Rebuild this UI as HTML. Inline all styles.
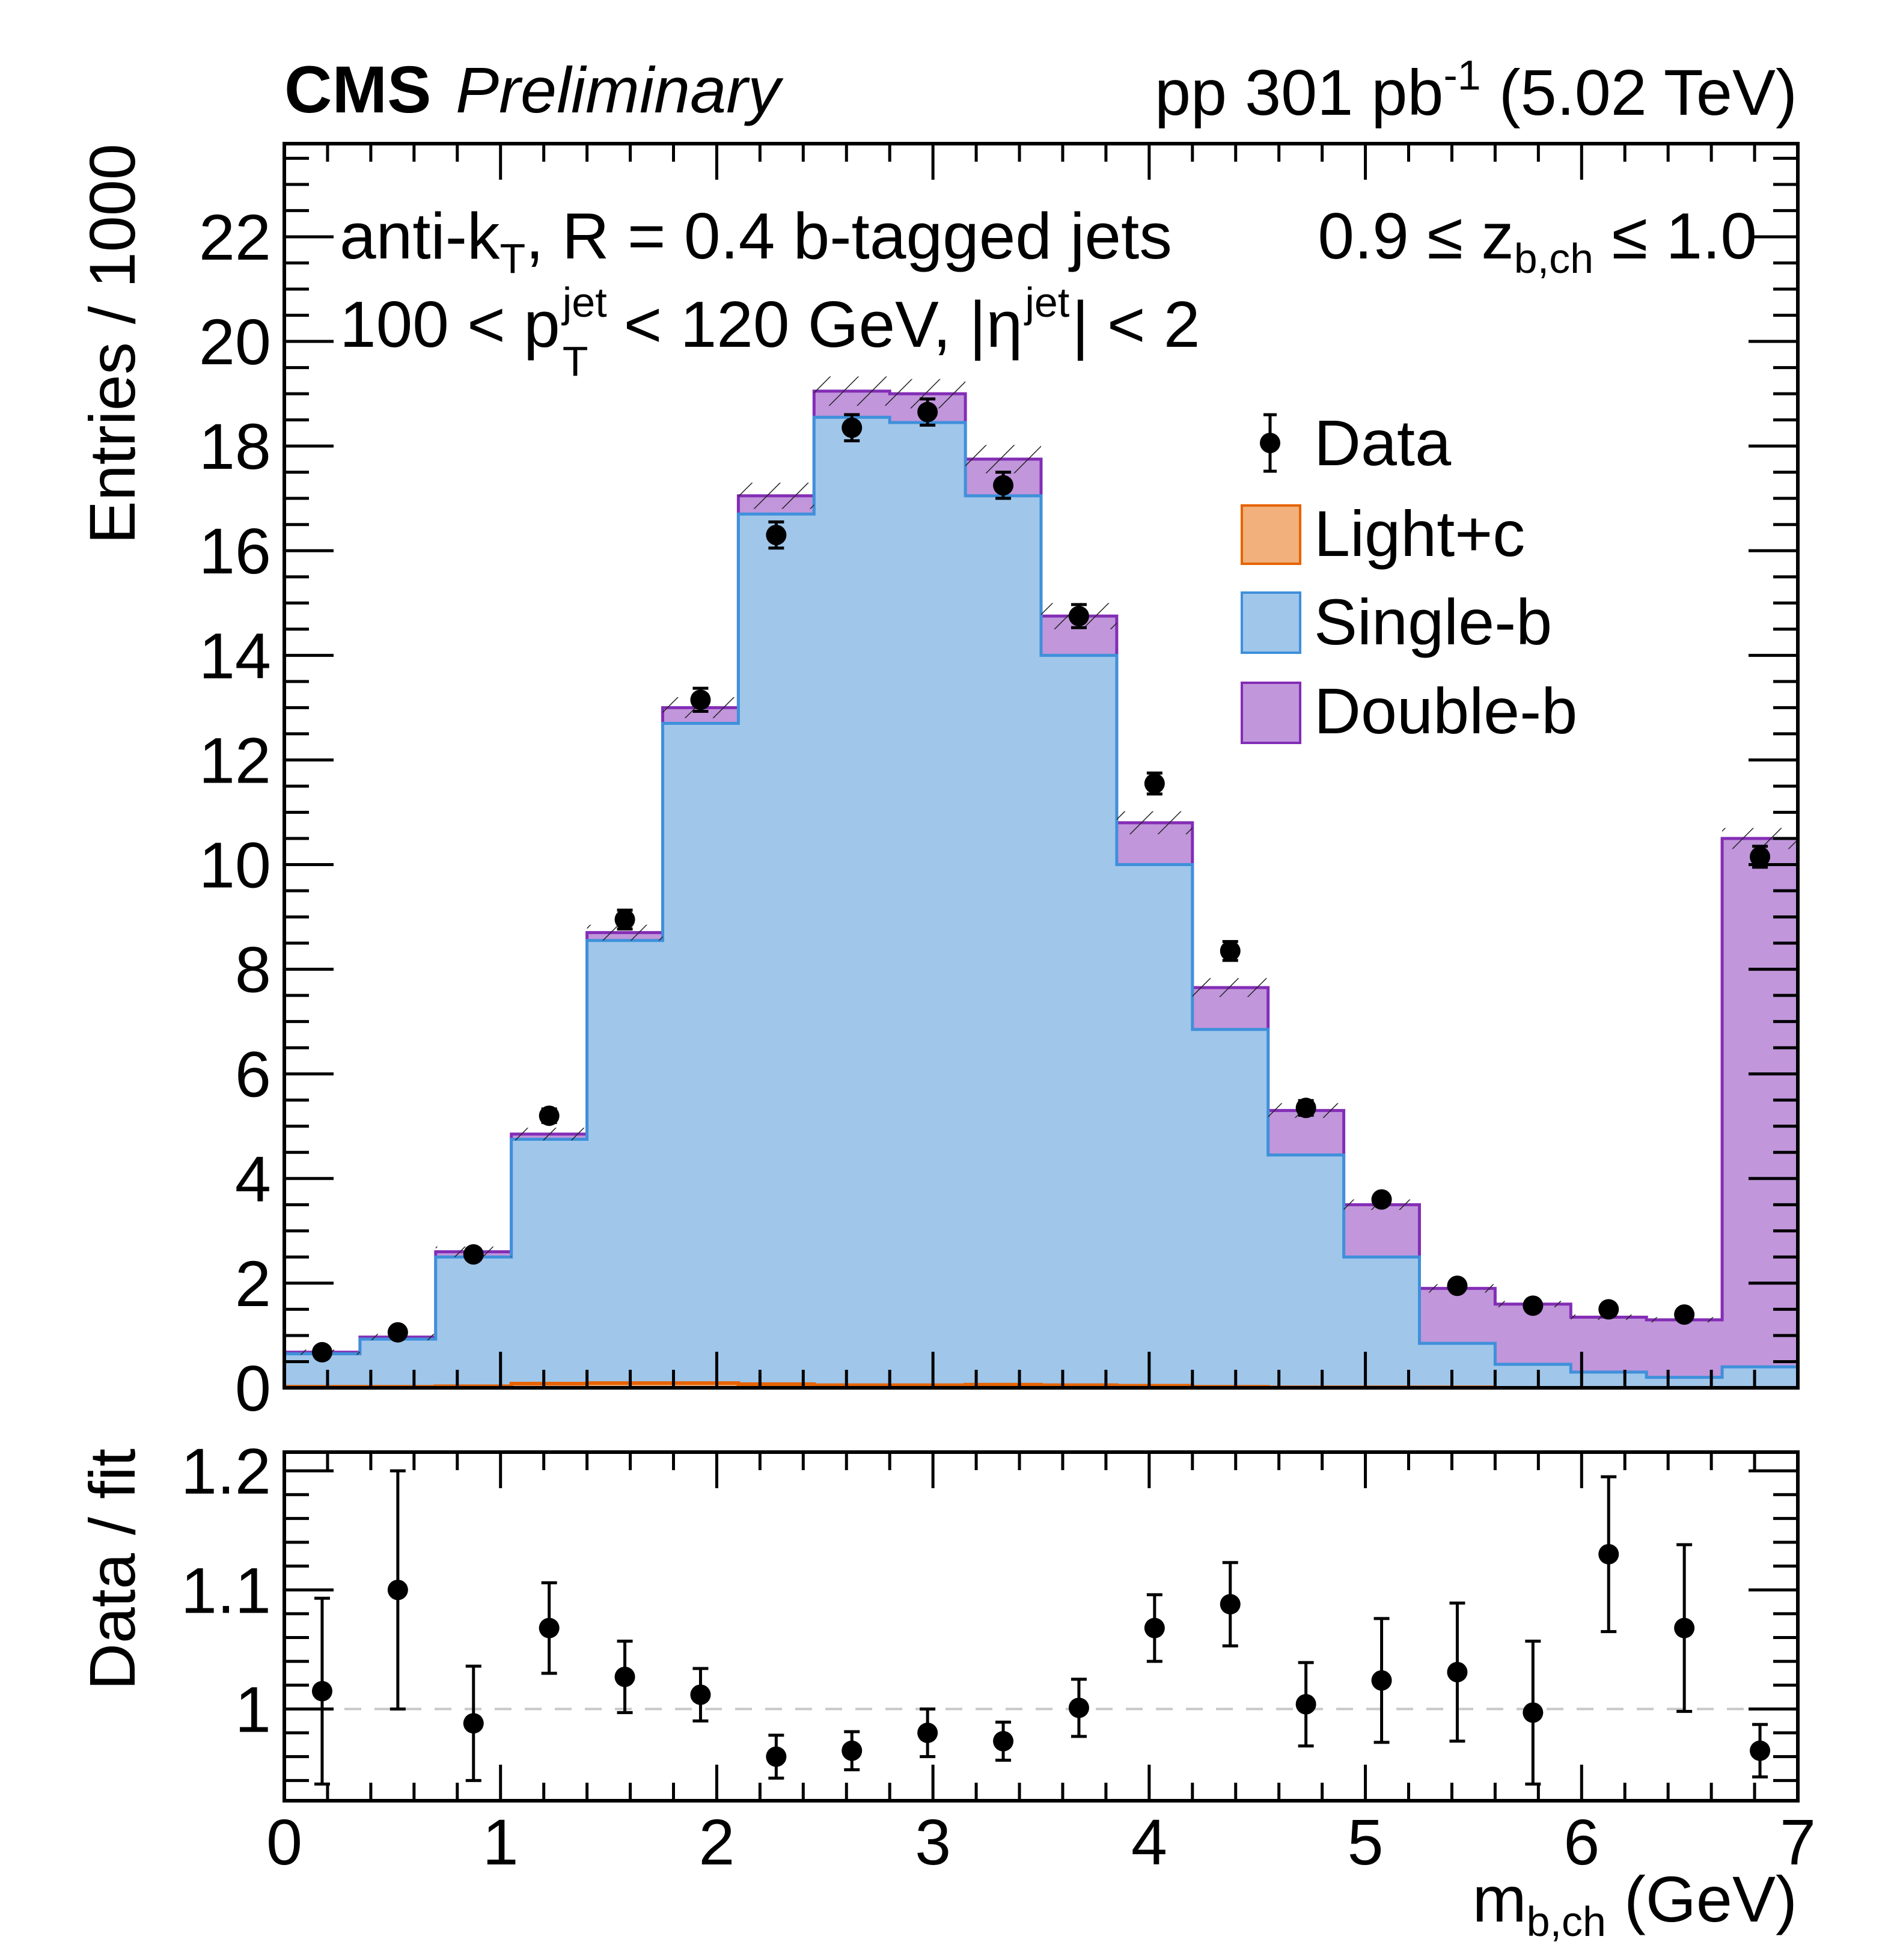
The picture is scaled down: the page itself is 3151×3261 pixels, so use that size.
<!DOCTYPE html>
<html><head><meta charset="utf-8">
<style>
html,body{margin:0;padding:0;background:#fff;}
svg{display:block;font-family:"Liberation Sans",sans-serif;}
</style></head>
<body>
<svg id="chart" width="3151" height="3261" viewBox="0 0 3151 3261" xmlns="http://www.w3.org/2000/svg">
<defs>
<pattern id="hatch" patternUnits="userSpaceOnUse" width="33" height="33" patternTransform="rotate(45)">
<line x1="0" y1="0" x2="0" y2="33" stroke="#222" stroke-width="3"/>
</pattern>
</defs>
<g id="main-marks"></g>
<g id="ratio-marks"></g>
<g id="axes"></g>
<text x="473" y="187" font-size="110" font-weight="bold">CMS</text>
<text x="758" y="187" font-size="108" font-style="italic">Preliminary</text>
<text x="2990" y="191" font-size="108" text-anchor="end">pp 301 pb<tspan dy="-42" font-size="70">-1</tspan><tspan dy="42"> (5.02 TeV)</tspan></text>
<text x="565" y="430" font-size="109">anti-k<tspan dy="24" font-size="70">T</tspan><tspan dy="-24">, R = 0.4 b-tagged jets</tspan></text>
<g>
<text id="pt1" x="565" y="577" font-size="109">100 &lt; p</text>
<text id="ptsup" x="0" y="527" font-size="70">jet</text>
<text id="ptsub" x="0" y="625" font-size="70">T</text>
<text id="pt2" x="0" y="577" font-size="109">&lt; 120 GeV, |η</text>
<text id="etasup" x="0" y="527" font-size="70">jet</text>
<text id="pt3" x="0" y="577" font-size="109">| &lt; 2</text>
</g>
<text x="2923" y="430" font-size="109" text-anchor="end">0.9 ≤ z<tspan dy="24" font-size="70">b,ch</tspan><tspan dy="-24"> ≤ 1.0</tspan></text>
<text transform="translate(224,239) rotate(-90)" font-size="108" text-anchor="end">Entries / 1000</text>
<text transform="translate(224,2410) rotate(-90)" font-size="108" text-anchor="end">Data / fit</text>
<text x="2990" y="3197" font-size="108" text-anchor="end">m<tspan dy="24" font-size="70">b,ch</tspan><tspan dy="-24"> (GeV)</tspan></text>
<g>
<line x1="2113" y1="690" x2="2113" y2="784" stroke="#000" stroke-width="5"/>
<line x1="2102" y1="690" x2="2124" y2="690" stroke="#000" stroke-width="5"/>
<line x1="2102" y1="784" x2="2124" y2="784" stroke="#000" stroke-width="5"/>
<circle cx="2113" cy="737" r="17" fill="#000"/>
<text x="2186" y="774" font-size="108">Data</text>
<rect x="2066" y="841" width="97" height="97" fill="#f1b07c" stroke="#e76300" stroke-width="4"/>
<text x="2186" y="925" font-size="108">Light+c</text>
<rect x="2066" y="986" width="97" height="100" fill="#a0c6ea" stroke="#3f90da" stroke-width="4"/>
<text x="2186" y="1072" font-size="108">Single-b</text>
<rect x="2066" y="1136" width="97" height="100" fill="#c196db" stroke="#832db6" stroke-width="4"/>
<text x="2186" y="1220" font-size="108">Double-b</text>
</g>
</svg>
<script>
const binEdgesStart = 0, binWidth = 0.35;
const lightC  = [0.02,0.02,0.03,0.08,0.09,0.09,0.07,0.05,0.05,0.06,0.05,0.04,0.02,0.01,0.01,0.01,0.0,0.0,0.0,0.0];
const singleB = [0.65,0.93,2.5,4.75,8.55,12.7,16.7,18.55,18.45,17.05,14.0,10.0,6.85,4.45,2.5,0.85,0.45,0.3,0.2,0.4];
const totalFit= [0.68,0.97,2.6,4.85,8.7,13.0,17.05,19.05,19.0,17.75,14.75,10.8,7.65,5.3,3.5,1.9,1.6,1.35,1.3,10.5];
const fitUnc  = [0.05,0.06,0.1,0.12,0.15,0.2,0.25,0.28,0.28,0.27,0.25,0.22,0.18,0.14,0.1,0.08,0.06,0.05,0.05,0.2];
const dataVals= [0.68,1.06,2.55,5.2,8.95,13.15,16.3,18.35,18.65,17.25,14.75,11.55,8.35,5.35,3.6,1.95,1.57,1.5,1.4,10.15];
const dataErr = [0.05,0.07,0.1,0.13,0.18,0.22,0.25,0.25,0.25,0.25,0.22,0.2,0.18,0.14,0.1,0.08,0.07,0.07,0.07,0.2];
const ratioVals=[1.015,1.10,0.988,1.068,1.027,1.012,0.96,0.965,0.98,0.973,1.001,1.068,1.088,1.004,1.024,1.031,0.997,1.13,1.068,0.965];
const ratioErr= [0.078,0.10,0.048,0.038,0.030,0.022,0.018,0.016,0.02,0.016,0.024,0.028,0.035,0.035,0.052,0.058,0.06,0.065,0.07,0.022];
const xTicks=[0,1,2,3,4,5,6,7];
const yTicks=[0,2,4,6,8,10,12,14,16,18,20,22];
const rTicks=[1,1.1,1.2];

const L=473,R=2991,MT=239,MB=2309,RT=2416,RB=2996;
const XMIN=0,XMAX=7,YMIN=0,YMAX=23.78,RMIN=0.923,RMAX=1.2157;
const sx=v=>L+(v-XMIN)/(XMAX-XMIN)*(R-L);
const sy=v=>MB-(v-YMIN)/(YMAX-YMIN)*(MB-MT);
const sr=v=>RB-(v-RMIN)/(RMAX-RMIN)*(RB-RT);
const NS="http://www.w3.org/2000/svg";
function mk(tag,attrs,parent){const e=document.createElementNS(NS,tag);for(const k in attrs)e.setAttribute(k,attrs[k]);parent.appendChild(e);return e;}
const main=document.getElementById('main-marks'), ratio=document.getElementById('ratio-marks'), axes=document.getElementById('axes');

(function(){
  const g=id=>document.getElementById(id);
  let x=565+g('pt1').getComputedTextLength()+4;
  g('ptsup').setAttribute('x',x); g('ptsub').setAttribute('x',x);
  x+=Math.max(g('ptsup').getComputedTextLength(),g('ptsub').getComputedTextLength())+28;
  g('pt2').setAttribute('x',x);
  x+=g('pt2').getComputedTextLength()+4;
  g('etasup').setAttribute('x',x);
  x+=g('etasup').getComputedTextLength()+4;
  g('pt3').setAttribute('x',x);
})();

function stepPath(vals,close){
  let d='M'+sx(binEdgesStart)+','+sy(0);
  vals.forEach((v,i)=>{const x0=sx(binEdgesStart+i*binWidth),x1=sx(binEdgesStart+(i+1)*binWidth);d+=' L'+x0+','+sy(v)+' L'+x1+','+sy(v);});
  d+=' L'+sx(binEdgesStart+vals.length*binWidth)+','+sy(0)+(close?' Z':'');
  return d;
}
let p;
p=mk('path',{d:stepPath(totalFit,true),fill:'#c196db',stroke:'#832db6','stroke-width':5},main);


p=mk('path',{d:stepPath(singleB,true),fill:'#a0c6ea',stroke:'#3f90da','stroke-width':5},main);


p=mk('path',{d:stepPath(lightC,true),fill:'#f1b07c',stroke:'#e76300','stroke-width':6},main);


totalFit.forEach((v,i)=>{
  const x0=sx(binEdgesStart+i*binWidth),x1=sx(binEdgesStart+(i+1)*binWidth);
  const r=mk('rect',{x:x0,y:sy(v+fitUnc[i]),width:x1-x0,height:sy(v-fitUnc[i])-sy(v+fitUnc[i]),fill:'url(#hatch)'},main);
  
  
});
function point(g,x,y,ylo,yhi,name){
  const grp=mk('g',{},g);
  
  
  mk('line',{x1:x,y1:ylo,x2:x,y2:yhi,stroke:'#000','stroke-width':5},grp);
  mk('line',{x1:x-13,y1:ylo,x2:x+13,y2:ylo,stroke:'#000','stroke-width':5},grp);
  mk('line',{x1:x-13,y1:yhi,x2:x+13,y2:yhi,stroke:'#000','stroke-width':5},grp);
  mk('circle',{cx:x,cy:y,r:17,fill:'#000'},grp);
}
dataVals.forEach((v,i)=>{const x=sx(binEdgesStart+(i+0.5)*binWidth);point(main,x,sy(v),sy(v-dataErr[i]),sy(v+dataErr[i]),'data-point');});
let ref=mk('line',{x1:L,y1:sr(1),x2:R,y2:sr(1),stroke:'#c8c8c8','stroke-width':4,'stroke-dasharray':'28,22'},ratio);


ratioVals.forEach((v,i)=>{const x=sx(binEdgesStart+(i+0.5)*binWidth);point(ratio,x,sr(v),sr(v-ratioErr[i]),sr(v+ratioErr[i]),'ratio-point');});

[[MT,MB,'main-frame'],[RT,RB,'ratio-frame']].forEach(f=>{
  const r=mk('rect',{x:L,y:f[0],width:R-L,height:f[1]-f[0],fill:'none',stroke:'#000','stroke-width':6},axes);
  
  
});
function tk(x1,y1,x2,y2){mk('line',{x1,y1,x2,y2,stroke:'#000','stroke-width':5},axes);}
for(let k=0;k<=35;k++){
  const v=k*0.2,x=sx(v),maj=(k%5===0),len=maj?60:30;
  [[MT,MB],[RT,RB]].forEach(f=>{tk(x,f[0],x,f[0]+len);tk(x,f[1],x,f[1]-len);});
}
for(let k=0;k*0.5<=YMAX;k++){
  const v=k*0.5,y=sy(v),len=(k%4===0)?82:41;
  tk(L,y,L+len,y);tk(R,y,R-len,y);
}
for(let k=0;;k++){
  const v=0.94+k*0.02; if(v>RMAX)break; const y=sr(v);
  const maj=Math.abs((v*10)-Math.round(v*10))<1e-6, len=maj?82:41;
  tk(L,y,L+len,y);tk(R,y,R-len,y);
}
yTicks.forEach(v=>{const t=mk('text',{x:L-22,y:sy(v)+38,'font-size':108,'text-anchor':'end'},axes);t.textContent=v;
  
  });
rTicks.forEach(v=>{const t=mk('text',{x:L-22,y:sr(v)+38,'font-size':108,'text-anchor':'end'},axes);t.textContent=v;
  
  });
xTicks.forEach(v=>{const t=mk('text',{x:sx(v),y:3102,'font-size':108,'text-anchor':'middle'},axes);t.textContent=v;
  
  });
</script>
</body></html>
